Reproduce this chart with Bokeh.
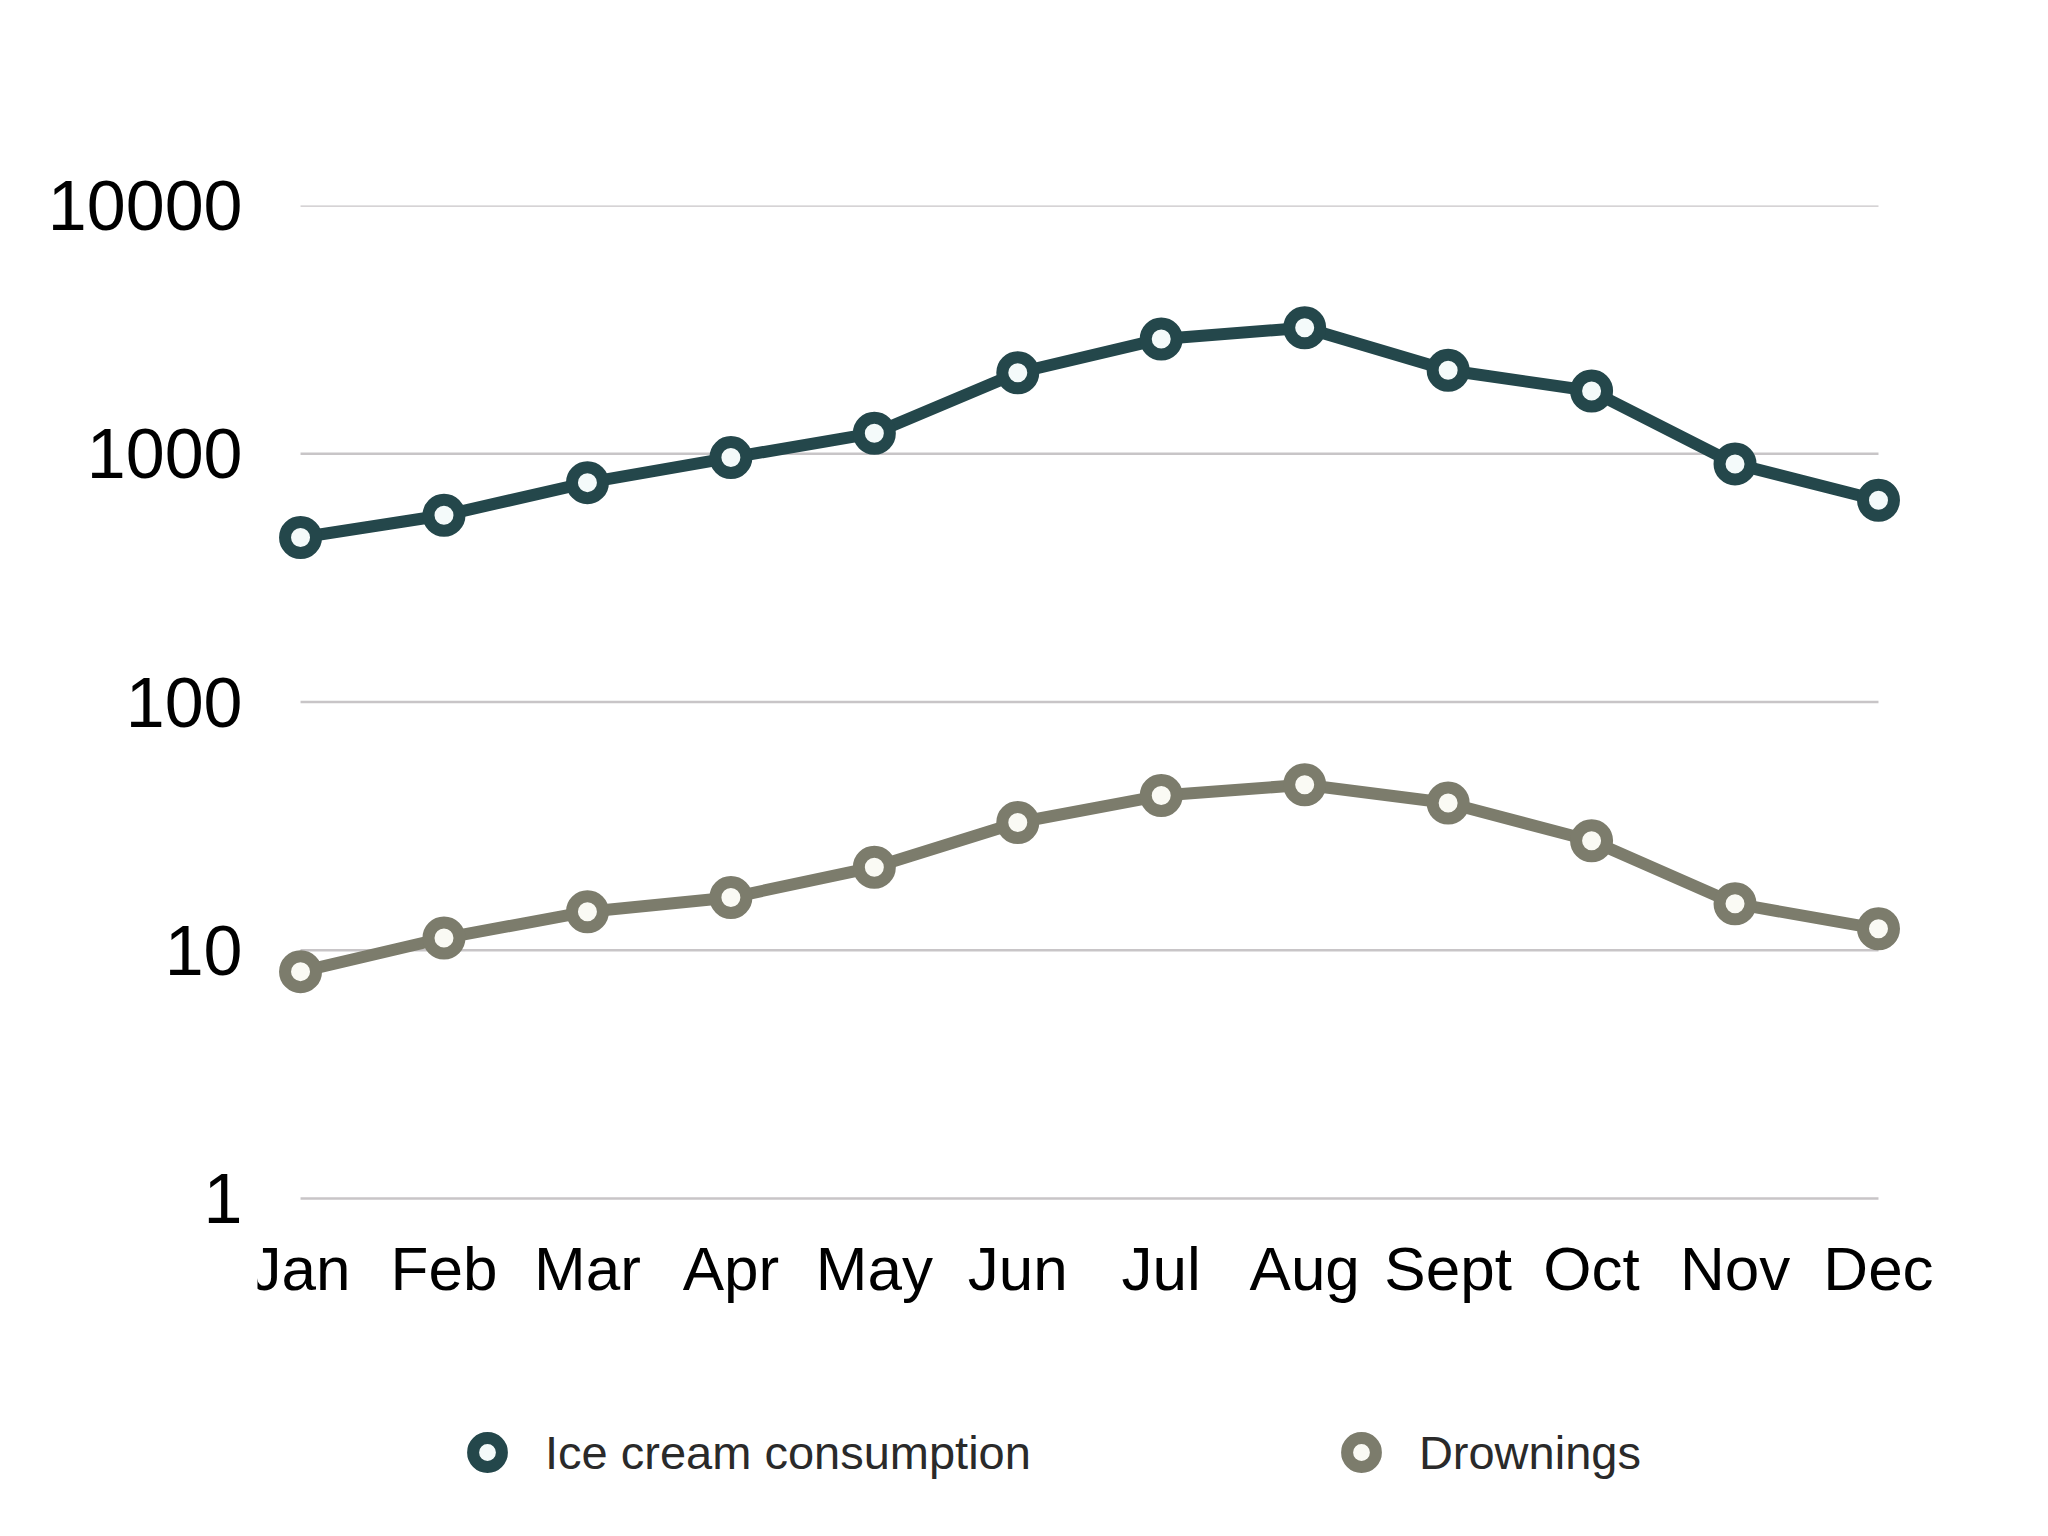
from bokeh.plotting import figure
from bokeh.models import (Range1d, FixedTicker, Legend, LegendItem, ColumnDataSource)
from bokeh.core.properties import value
from bokeh.embed import file_html
from bokeh.resources import INLINE

# ---- data ----
months = ["Jan", "Feb", "Mar", "Apr", "May", "Jun", "Jul", "Aug", "Sept", "Oct", "Nov", "Dec"]
ice_cream = [460, 565, 765, 965, 1210, 2120, 2900, 3220, 2170, 1790, 910, 650]
drownings = [8.2, 11.2, 14.3, 16.3, 21.6, 32.7, 42, 46.4, 39.2, 27.6, 15.4, 12.2]
y_ticks = [1, 10, 100, 1000, 10000]
y_tick_labels = ["1", "10", "100", "1000", "10000"]

ICE_COLOR = "#24474b"
DROWN_COLOR = "#7c7c6c"
FONT = "Liberation Sans"

# ---- layout (pixels) ----
W, H = 2032, 1510
LEFT, RIGHT, TOP = 257, 40, 205
DECADE_PX = 248.25
STEP_PX = 143.45
X_PAD = 0.3
frame_h = H - TOP
frame_w = W - LEFT - RIGHT
y_start = y_ticks[-1] / 10 ** (frame_h / DECADE_PX)
x_end = -X_PAD + frame_w / STEP_PX

idx = list(range(len(months)))
src = ColumnDataSource(dict(x=idx, ice=ice_cream, drown=drownings))

p = figure(width=W, height=H, y_axis_type="log", x_axis_location=None,
           x_range=Range1d(-X_PAD, x_end),
           y_range=Range1d(y_start, y_ticks[-1]),
           output_backend="svg", toolbar_location=None,
           min_border_left=LEFT, min_border_right=RIGHT,
           min_border_top=TOP, min_border_bottom=0)
p.outline_line_color = None
p.background_fill_color = "white"
p.border_fill_color = "white"
p.xgrid.visible = False
p.ygrid.visible = False

# horizontal grid lines spanning Jan..Dec
gsrc = ColumnDataSource(dict(x0=[0] * len(y_ticks), x1=[len(months) - 1] * len(y_ticks), y=y_ticks))
p.segment(x0="x0", y0="y", x1="x1", y1="y", source=gsrc, line_color="#c8c5c7", line_width=2.5)

# series
p.line("x", "ice", source=src, line_color=ICE_COLOR, line_width=12, line_join="round")
r_ice = p.scatter("x", "ice", source=src, marker="circle", size=31,
                  fill_color="#f4fafa", line_color=ICE_COLOR, line_width=12)
p.line("x", "drown", source=src, line_color=DROWN_COLOR, line_width=12, line_join="round")
r_dr = p.scatter("x", "drown", source=src, marker="circle", size=31,
                 fill_color="#fafaf4", line_color=DROWN_COLOR, line_width=12)

# month labels under the lowest grid line
msrc = ColumnDataSource(dict(x=idx, y=[y_ticks[0]] * len(months), t=months))
p.text(x="x", y="y", text="t", source=msrc, text_align="center", text_baseline="alphabetic",
       y_offset=70, text_font=value(FONT), text_font_size="62px", text_color="#000000")

# y axis
p.yaxis.ticker = FixedTicker(ticks=y_ticks, minor_ticks=[])
p.yaxis.major_label_overrides = {t: l for t, l in zip(y_ticks, y_tick_labels)}
ax = p.yaxis[0]
ax.axis_line_color = None
ax.major_tick_line_color = None
ax.minor_tick_line_color = None
ax.major_tick_in = 0
ax.major_tick_out = 0
ax.minor_tick_in = 0
ax.minor_tick_out = 0
ax.major_label_text_font = FONT
ax.major_label_text_color = "#000000"
ax.major_label_text_font_size = "70px"
ax.major_label_standoff = 15

legend = Legend(items=[LegendItem(label="Ice cream consumption", renderers=[r_ice]),
                       LegendItem(label="Drownings", renderers=[r_dr])],
                location=(194, 22), orientation="horizontal",
                glyph_width=72, glyph_height=72, label_standoff=22, spacing=294,
                padding=0, margin=0, border_line_color=None, background_fill_alpha=0,
                label_text_font_size="47px", label_text_font=FONT,
                label_text_color="#2a2a2a")
p.add_layout(legend, "center")

open("out.html", "w").write(file_html(p, INLINE))
